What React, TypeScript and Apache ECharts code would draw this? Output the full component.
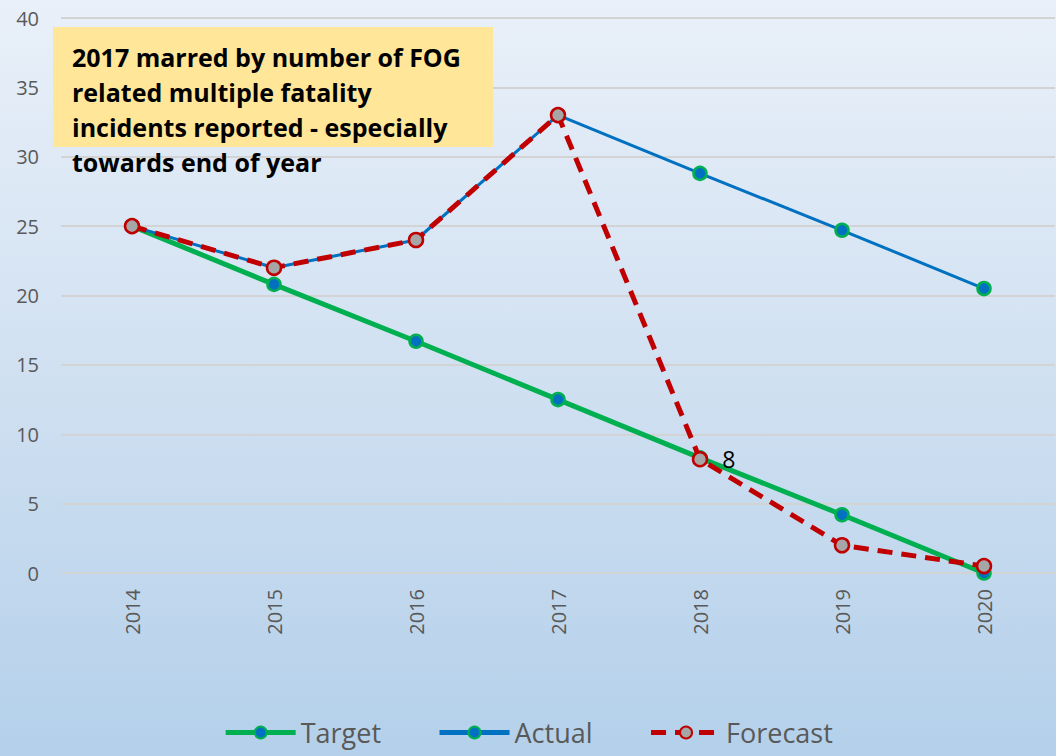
import React, { useEffect, useRef } from "react";
import * as echarts from "echarts";

const years = ["2014", "2015", "2016", "2017", "2018", "2019", "2020"];
const target = [25, 20.8, 16.7, 12.5, 8.3, 4.2, 0];
const actual = [25, 22, 24, 33, 28.8, 24.7, 20.5];
const forecast = [25, 22, 24, 33, 8.2, 2.0, 0.5];
const forecastLabelIndex = 4;
const noteLines = [
  "2017 marred by number of FOG",
  "related multiple fatality",
  "incidents reported - especially",
  "towards end of year",
];

export default function App() {
  const ref = useRef<HTMLDivElement>(null);
  useEffect(() => {
    if (!ref.current) return;
    const chart = echarts.init(ref.current, undefined, { renderer: "svg" });
    const font = "'Open Sans', sans-serif";
    chart.setOption({
      animation: false,
      backgroundColor: "transparent",
      grid: { left: 61, right: 1, top: 18, bottom: 183, containLabel: false },
      legend: {
        bottom: 5,
        left: "center",
        itemWidth: 70,
        itemHeight: 15,
        itemGap: 56,
        lineStyle: { width: 5 },
        textStyle: { fontSize: 27, color: "#595959", fontFamily: font },
        data: ["Target", "Actual", "Forecast"],
      },
      xAxis: {
        type: "category",
        data: years,
        boundaryGap: true,
        axisLine: { show: false },
        axisTick: { show: false },
        axisLabel: {
          rotate: 90,
          color: "#595959",
          fontSize: 20,
          fontFamily: font,
          margin: 16,
        },
      },
      yAxis: {
        type: "value",
        min: 0,
        max: 40,
        interval: 5,
        axisLine: { show: false },
        axisTick: { show: false },
        axisLabel: { color: "#595959", fontSize: 20, fontFamily: font, margin: 22 },
        splitLine: { lineStyle: { color: "#d3d3d3", width: 2 } },
      },
      series: [
        {
          name: "Target",
          type: "line",
          data: target,
          symbol: "circle",
          symbolSize: 13,
          lineStyle: { color: "#00b050", width: 5 },
          itemStyle: { color: "#0070c0", borderColor: "#00b050", borderWidth: 2.5 },
          z: 2,
        },
        {
          name: "Actual",
          type: "line",
          data: actual,
          symbol: "circle",
          symbolSize: 13,
          lineStyle: { color: "#0070c0", width: 3 },
          itemStyle: { color: "#0070c0", borderColor: "#00b050", borderWidth: 2.5 },
          z: 3,
        },
        {
          name: "Forecast",
          type: "line",
          data: forecast,
          symbol: "circle",
          symbolSize: 14,
          lineStyle: { color: "#c00000", width: 5, type: [15, 9] },
          itemStyle: { color: "#a6a6a6", borderColor: "#c00000", borderWidth: 2.5 },
          label: {
            show: true,
            position: "right",
            distance: 14,
            color: "#000",
            fontSize: 23,
            fontFamily: font,
            formatter: (p: any) =>
              p.dataIndex === forecastLabelIndex ? String(Math.round(p.value)) : "",
          },
          z: 4,
        },
      ],
      graphic: [
        {
          type: "rect",
          shape: { x: 53, y: 27, width: 440, height: 120 },
          style: { fill: "#ffe699" },
          z: 10,
        },
        {
          type: "text",
          x: 72,
          y: 39,
          style: {
            text: noteLines.join("\n"),
            font: "bold 25px 'Open Sans', sans-serif",
            lineHeight: 35,
            fill: "#000",
          },
          z: 11,
        },
      ],
    });
    return () => chart.dispose();
  }, []);
  return (
    <div
      style={{
        position: "absolute",
        left: 0,
        top: 0,
        width: 1056,
        height: 756,
        background: "linear-gradient(to bottom, #e9f0f9 0%, #d3e2f2 45%, #b4d0ea 100%)",
      }}
    >
      <div ref={ref} style={{ width: 1056, height: 756 }} />
    </div>
  );
}
